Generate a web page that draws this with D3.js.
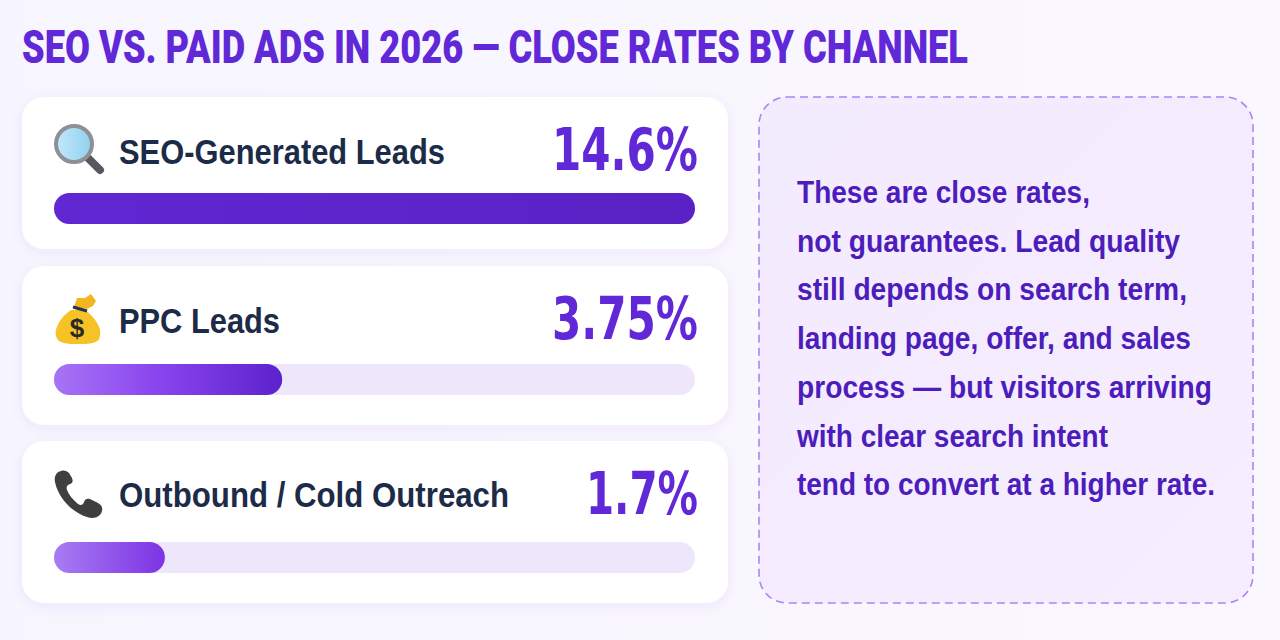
<!DOCTYPE html>
<html>
<head>
<meta charset="utf-8">
<script src="https://cdn.jsdelivr.net/npm/d3@7"></script>
<style>
html, body { margin: 0; padding: 0; background: #f8f6fe; overflow: hidden; }
text { font-family: "Liberation Sans", Arial, sans-serif; font-weight: 700; }
</style>
</head>
<body>
<div id="chart"></div>
<script>
// data
const titleText = "SEO VS. PAID ADS IN 2026 — CLOSE RATES BY CHANNEL";
const channels = ["SEO-Generated Leads", "PPC Leads", "Outbound / Cold Outreach"];
const closeRates = ["14.6%", "3.75%", "1.7%"];
// the bars are not drawn to the rate, share of track is as measured on the picture
const barShares = [100, 35.6, 17.3];
const icons = ["search", "money", "phone"];
const noteLines = [
	"These are close rates,",
	"not guarantees. Lead quality",
	"still depends on search term,",
	"landing page, offer, and sales",
	"process — but visitors arriving",
	"with clear search intent",
	"tend to convert at a higher rate."
];

const width = 1280, height = 640;

const svg = d3.select("#chart").append("svg")
	.attr("width", width)
	.attr("height", height)
	.style("display", "block");

const defs = svg.append("defs");

function gradient(id, stops, x2, y2) {
	const g = defs.append("linearGradient").attr("id", id)
		.attr("x1", "0%").attr("x2", x2 || "100%").attr("y1", "0%").attr("y2", y2 || "0%");
	stops.forEach(s => g.append("stop").attr("offset", s[0]).attr("stop-color", s[1]));
}
gradient("barFull", [["0%", "#6027d3"], ["100%", "#5a22c4"]]);
gradient("barPpc", [["0%", "#a774f5"], ["45%", "#8a45ee"], ["100%", "#5c22cc"]]);
gradient("barOut", [["0%", "#a87cf3"], ["100%", "#7d33e4"]]);
gradient("noteBg", [["0%", "#f3ebfe"], ["100%", "#f6eefe"]], "100%", "100%");
gradient("lens", [["0%", "#c4e8fb"], ["100%", "#8fd0f0"]]);
gradient("pageBg", [["0%", "#f7f5fe"], ["100%", "#faf7fe"]]);

const shadow = defs.append("filter").attr("id", "cardShadow")
	.attr("x", "-5%").attr("y", "-15%").attr("width", "110%").attr("height", "135%");
shadow.append("feDropShadow")
	.attr("dx", 0).attr("dy", 3).attr("stdDeviation", 6)
	.attr("flood-color", "#6a3fc8").attr("flood-opacity", 0.08);

svg.append("rect").attr("width", width).attr("height", height).attr("fill", "url(#pageBg)");

// title
svg.append("text")
	.attr("x", 22).attr("y", 63)
	.attr("textLength", 946)
	.attr("lengthAdjust", "spacingAndGlyphs")
	.style("font-family", "Roboto, sans-serif")
	.style("font-size", "46px")
	.style("font-weight", 900)
	.attr("fill", "#6128d8")
	.text(titleText);

// cards
const cardTops = [97, 266, 441];
const cardHeights = [152, 159, 162];
const barTops = [193, 364, 542];
const labelYs = [164, 333, 507];
const rateYs = [170, 339, 514];
const rateWidths = [146, 146, 112];
const barH = 31;

const x = d3.scaleLinear().domain([0, 100]).range([54, 695]);
const fills = ["url(#barFull)", "url(#barPpc)", "url(#barOut)"];

const card = svg.selectAll(".card")
	.data(channels)
	.enter().append("g")
	.attr("class", "card");

card.append("rect")
	.attr("x", 22).attr("y", (d, i) => cardTops[i])
	.attr("width", 706).attr("height", (d, i) => cardHeights[i])
	.attr("rx", 22)
	.attr("fill", "#fff")
	.attr("filter", "url(#cardShadow)");

card.append("text")
	.attr("x", 119).attr("y", (d, i) => labelYs[i])
	.attr("fill", "#1c2b48")
	.style("font-size", "35px")
	.attr("textLength", (d, i) => [326, 161, 390][i])
	.attr("lengthAdjust", "spacingAndGlyphs")
	.text(d => d);

card.append("text")
	.attr("x", (d, i) => 698 - rateWidths[i]).attr("y", (d, i) => rateYs[i])
	.attr("fill", "#6128d8")
	.style("font-family", "'DejaVu Sans', sans-serif")
	.style("font-size", "59px")
	.attr("textLength", (d, i) => rateWidths[i])
	.attr("lengthAdjust", "spacingAndGlyphs")
	.text((d, i) => closeRates[i]);

// track, then fill
card.append("rect")
	.attr("x", x(0)).attr("y", (d, i) => barTops[i])
	.attr("width", x(100) - x(0)).attr("height", barH)
	.attr("rx", barH / 2)
	.attr("fill", "#eee7fc");

card.append("rect")
	.attr("x", x(0)).attr("y", (d, i) => barTops[i])
	.attr("width", (d, i) => x(barShares[i]) - x(0)).attr("height", barH)
	.attr("rx", barH / 2)
	.attr("fill", (d, i) => fills[i]);

// icons, no emoji font to lean on so these are small drawings
const drawIcon = {
	search(g) {
		g.append("line").attr("x1", 32).attr("y1", 32).attr("x2", 46).attr("y2", 46)
			.attr("stroke", "#55595e").attr("stroke-width", 8).attr("stroke-linecap", "round");
		g.append("circle").attr("cx", 20).attr("cy", 20).attr("r", 18)
			.attr("fill", "url(#lens)").attr("stroke", "#8d9095").attr("stroke-width", 4);
	},
	money(g) {
		g.append("path")
			.attr("d", "M16 16 C4 24 -1 36 1 42 C3 50 12 50 23 50 C34 50 44 50 45 42 C47 34 40 23 30 16 Z")
			.attr("fill", "#f6c326");
		g.append("path")
			.attr("d", "M19 13 L22 4 L30 4 L36 0 L41 7 L38 12 L32 15 Z")
			.attr("fill", "#f2b720");
		g.append("line").attr("x1", 18).attr("y1", 13).attr("x2", 32).attr("y2", 17)
			.attr("stroke", "#2b3348").attr("stroke-width", 3);
		g.append("text").attr("x", 22).attr("y", 43).attr("text-anchor", "middle")
			.style("font-size", "26px").attr("fill", "#2a2a2a").text("$");
	},
	phone(g) {
		g.append("path")
			.attr("d", "M7 1 C2 2 0 7 1 12 C4 27 17 42 33 47 C39 49 46 48 48 41 C49 37 47 35 44 33 L36 29 C33 28 31 29 30 32 C29 35 27 36 24 34 C19 30 15 25 13 20 C12 17 13 15 16 14 C19 13 19 11 18 8 L15 3 C13 1 10 0 7 1 Z")
			.attr("fill", "#3f3f42");
	}
};
const iconPos = [[54, 124], [55, 294], [54, 470]];
card.append("g")
	.attr("transform", (d, i) => `translate(${iconPos[i][0]},${iconPos[i][1]})`)
	.each(function(d, i) { drawIcon[icons[i]](d3.select(this)); });

// note panel
svg.append("rect")
	.attr("x", 759).attr("y", 97)
	.attr("width", 494).attr("height", 506)
	.attr("rx", 28)
	.attr("fill", "url(#noteBg)")
	.attr("stroke", "#a985f5")
	.attr("stroke-width", 1.6)
	.attr("stroke-dasharray", "8 5");

svg.selectAll(".note")
	.data(noteLines)
	.enter().append("text")
	.attr("class", "note")
	.attr("x", 797)
	.attr("y", (d, i) => 203 + i * 48.7)
	.attr("fill", "#4c1dbc")
	.attr("textLength", (d, i) => [293, 383, 390, 394, 415, 311, 418][i])
	.attr("lengthAdjust", "spacingAndGlyphs")
	.style("font-size", "32px")
	.text(d => d);
</script>
</body>
</html>
